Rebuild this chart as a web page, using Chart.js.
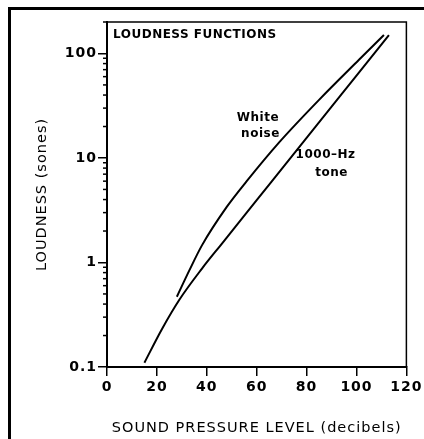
<!DOCTYPE html>
<html lang="en">

<head>
    <meta charset="UTF-8">
    <title>Loudness Functions</title>
    <script src="https://cdn.jsdelivr.net/npm/chart.js@4.4.1/dist/chart.umd.min.js"></script>
    <style>
        html, body { margin: 0; padding: 0; background: #fff; }
        #wrap { position: relative; width: 424px; height: 439px; }
    </style>
</head>

<body>
    <div id="wrap"><canvas id="loudChart" width="424" height="439"></canvas></div>
    <script>
        // values
        const toneDb = [15, 22, 29, 38, 46, 60, 80, 100, 113];
        const toneSones = [0.11, 0.23, 0.44, 0.87, 1.51, 3.95, 15.6, 61.5, 150];
        const noiseDb = [28, 33, 38, 48, 56, 69, 85, 101, 111];
        const noiseSones = [0.47, 0.84, 1.45, 3.4, 6.0, 14.1, 36, 87, 150];
        const yTicks = [0.1, 1, 10, 100];
        const xTicks = [0, 20, 40, 60, 80, 100, 120];

        function toPoints(xs, ys) {
            return xs.map(function (x, i) { return { x: x, y: ys[i] }; });
        }

        const fontFam = '"DejaVu Sans", sans-serif';

        var decor = {
            id: 'decor',
            beforeDraw: function (chart) {
                chart.ctx.letterSpacing = '1px';
            },
            afterDraw: function (chart) {
                var ctx = chart.ctx;
                var a = chart.chartArea;
                var xs = chart.scales.x, ys = chart.scales.y;
                ctx.save();
                ctx.fillStyle = '#000';
                ctx.strokeStyle = '#000';
                // outer frame (top and left)
                ctx.fillRect(8, 7, 416, 3);
                ctx.fillRect(8, 7, 3, 432);
                // top and right plot border
                ctx.lineWidth = 1.5;
                ctx.beginPath();
                ctx.moveTo(a.left, a.top);
                ctx.lineTo(a.right, a.top);
                ctx.lineTo(a.right, a.bottom);
                ctx.stroke();
                // minor ticks on log axis
                yTicks.forEach(function (d) {
                    for (var k = 2; k <= 9; k++) {
                        var v = k * d;
                        if (v > ys.max) break;
                        var py = ys.getPixelForValue(v);
                        ctx.beginPath();
                        ctx.moveTo(a.left - 4, py);
                        ctx.lineTo(a.left, py);
                        ctx.stroke();
                    }
                });
                // texts
                ctx.letterSpacing = '0.5px';
                ctx.font = 'bold 12px ' + fontFam;
                ctx.textAlign = 'left';
                ctx.textBaseline = 'middle';
                ctx.fillText('LOUDNESS FUNCTIONS', a.left + 6, a.top + 13);
                ctx.textAlign = 'center';
                ctx.fillText('White', xs.getPixelForValue(60.5), ys.getPixelForValue(24));
                ctx.fillText('noise', xs.getPixelForValue(61.5), ys.getPixelForValue(17));
                ctx.fillText('1000\u2013Hz', xs.getPixelForValue(87.6), ys.getPixelForValue(10.7));
                ctx.fillText('tone', xs.getPixelForValue(90), ys.getPixelForValue(7.2));
                ctx.restore();
                ctx.letterSpacing = '0px';
            }
        };

        var lineStyle = {
            borderColor: '#000',
            borderWidth: 2,
            pointRadius: 0,
            fill: false,
            cubicInterpolationMode: 'monotone'
        };

        new Chart(document.getElementById('loudChart').getContext('2d'), {
            type: 'line',
            data: {
                datasets: [
                    Object.assign({ label: '1000-Hz tone', data: toPoints(toneDb, toneSones) }, lineStyle),
                    Object.assign({ label: 'White noise', data: toPoints(noiseDb, noiseSones) }, lineStyle)
                ]
            },
            plugins: [decor],
            options: {
                responsive: false,
                animation: false,
                layout: { padding: { top: 22, right: 16, left: 0, bottom: 0 } },
                plugins: { legend: { display: false }, tooltip: { enabled: false } },
                scales: {
                    x: {
                        type: 'linear',
                        min: 0,
                        max: 120,
                        afterBuildTicks: function (axis) {
                            axis.ticks = xTicks.map(function (v) { return { value: v }; });
                        },
                        afterFit: function (scale) { scale.height = 72; },
                        grid: { drawOnChartArea: false, drawTicks: true, tickLength: 9, color: '#000', lineWidth: 1.5 },
                        border: { display: true, color: '#000', width: 2 },
                        ticks: {
                            color: '#000',
                            padding: 3,
                            maxRotation: 0,
                            font: { family: fontFam, size: 14, weight: 'bold' }
                        },
                        title: {
                            display: true,
                            text: 'SOUND PRESSURE LEVEL (decibels)',
                            color: '#000',
                            font: { family: fontFam, size: 14.5 },
                            padding: { top: 0, bottom: 2 }
                        }
                    },
                    y: {
                        type: 'logarithmic',
                        min: 0.1,
                        max: 200,
                        afterBuildTicks: function (axis) {
                            axis.ticks = yTicks.map(function (v) { return { value: v }; });
                        },
                        afterFit: function (scale) { scale.width = 107; },
                        grid: { drawOnChartArea: false, drawTicks: true, tickLength: 9, color: '#000', lineWidth: 1.5 },
                        border: { display: true, color: '#000', width: 2 },
                        ticks: {
                            color: '#000',
                            padding: 1,
                            callback: function (v) { return String(v); },
                            font: { family: fontFam, size: 14, weight: 'bold' }
                        },
                        title: {
                            display: true,
                            text: 'LOUDNESS (sones)',
                            color: '#000',
                            font: { family: fontFam, size: 14.5 },
                            padding: { top: 34, bottom: 0 }
                        }
                    }
                }
            }
        });
    </script>
</body>

</html>
